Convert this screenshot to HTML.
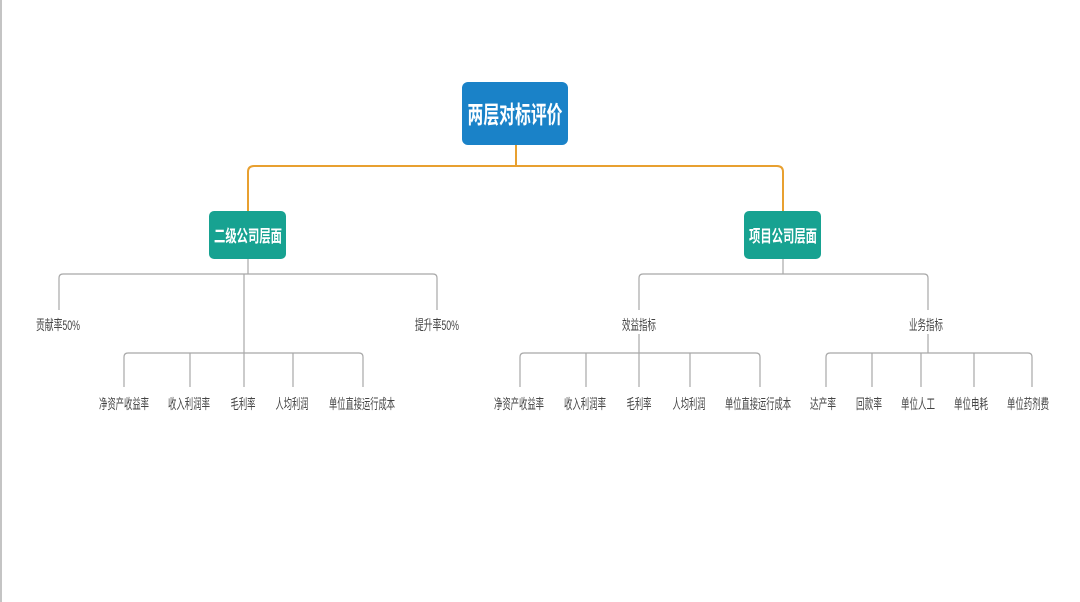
<!DOCTYPE html>
<html><head><meta charset="utf-8"><style>
html,body{margin:0;padding:0;background:#fff;width:1080px;height:602px;overflow:hidden}
svg{display:block}
text{font-family:"Liberation Sans","Noto Sans CJK SC",sans-serif}
</style></head><body>
<svg width="1080" height="602" viewBox="0 0 1080 602">
<rect x="0" y="0" width="2" height="602" fill="#c4c4c4"/>
<g fill="none" stroke="#e8a030" stroke-width="2">
<path d="M516 145 V166"/>
<path d="M248 212 V172 Q248 166 254 166 H777 Q783 166 783 172 V212"/>
</g>
<rect x="462" y="82" width="106" height="63" rx="6" fill="#1a82c8"/>
<text x="515" y="123" font-size="24" font-weight="bold" fill="#fff" text-anchor="middle" textLength="95" lengthAdjust="spacingAndGlyphs">两层对标评价</text>
<rect x="209" y="211" width="77" height="48" rx="5" fill="#17a291"/>
<text x="248" y="242" font-size="17" font-weight="bold" fill="#fff" text-anchor="middle" textLength="68" lengthAdjust="spacingAndGlyphs">二级公司层面</text>
<rect x="744" y="211" width="77" height="48" rx="5" fill="#17a291"/>
<text x="783" y="242" font-size="17" font-weight="bold" fill="#fff" text-anchor="middle" textLength="68" lengthAdjust="spacingAndGlyphs">项目公司层面</text>
<g fill="none" stroke="#a8a8a8" stroke-width="1.2">
<path d="M248 259 V274"/>
<path d="M59 310 V278 Q59 274 63 274 H433 Q437 274 437 278 V310"/>
<path d="M244 274 V387"/>
<path d="M124 387 V357 Q124 353 128 353 H359 Q363 353 363 357 V387"/>
<path d="M190 353 V387 M293 353 V387"/>
<path d="M783 259 V274"/>
<path d="M639 310 V278 Q639 274 643 274 H924 Q928 274 928 278 V310"/>
<path d="M639 334 V387"/>
<path d="M520 387 V357 Q520 353 524 353 H756 Q760 353 760 357 V387"/>
<path d="M586 353 V387 M690 353 V387"/>
<path d="M928 334 V353"/>
<path d="M826 387 V357 Q826 353 830 353 H1028 Q1032 353 1032 357 V387"/>
<path d="M872 353 V387 M921 353 V387 M974 353 V387"/>
</g>
<g font-size="14" fill="#444" text-anchor="middle">
<text x="58" y="330" textLength="44" lengthAdjust="spacingAndGlyphs">贡献率50%</text>
<text x="437" y="330" textLength="44" lengthAdjust="spacingAndGlyphs">提升率50%</text>
<text x="639" y="330" textLength="34" lengthAdjust="spacingAndGlyphs">效益指标</text>
<text x="926" y="330" textLength="34" lengthAdjust="spacingAndGlyphs">业务指标</text>
<text x="124" y="409" textLength="50" lengthAdjust="spacingAndGlyphs">净资产收益率</text>
<text x="189" y="409" textLength="42" lengthAdjust="spacingAndGlyphs">收入利润率</text>
<text x="243" y="409" textLength="25" lengthAdjust="spacingAndGlyphs">毛利率</text>
<text x="292" y="409" textLength="33" lengthAdjust="spacingAndGlyphs">人均利润</text>
<text x="362" y="409" textLength="66" lengthAdjust="spacingAndGlyphs">单位直接运行成本</text>
<text x="519" y="409" textLength="50" lengthAdjust="spacingAndGlyphs">净资产收益率</text>
<text x="585" y="409" textLength="42" lengthAdjust="spacingAndGlyphs">收入利润率</text>
<text x="639" y="409" textLength="25" lengthAdjust="spacingAndGlyphs">毛利率</text>
<text x="689" y="409" textLength="33" lengthAdjust="spacingAndGlyphs">人均利润</text>
<text x="758" y="409" textLength="66" lengthAdjust="spacingAndGlyphs">单位直接运行成本</text>
<text x="823" y="409" textLength="26" lengthAdjust="spacingAndGlyphs">达产率</text>
<text x="869" y="409" textLength="26" lengthAdjust="spacingAndGlyphs">回款率</text>
<text x="918" y="409" textLength="34" lengthAdjust="spacingAndGlyphs">单位人工</text>
<text x="971" y="409" textLength="34" lengthAdjust="spacingAndGlyphs">单位电耗</text>
<text x="1028" y="409" textLength="42" lengthAdjust="spacingAndGlyphs">单位药剂费</text>
</g>
</svg>
</body></html>
